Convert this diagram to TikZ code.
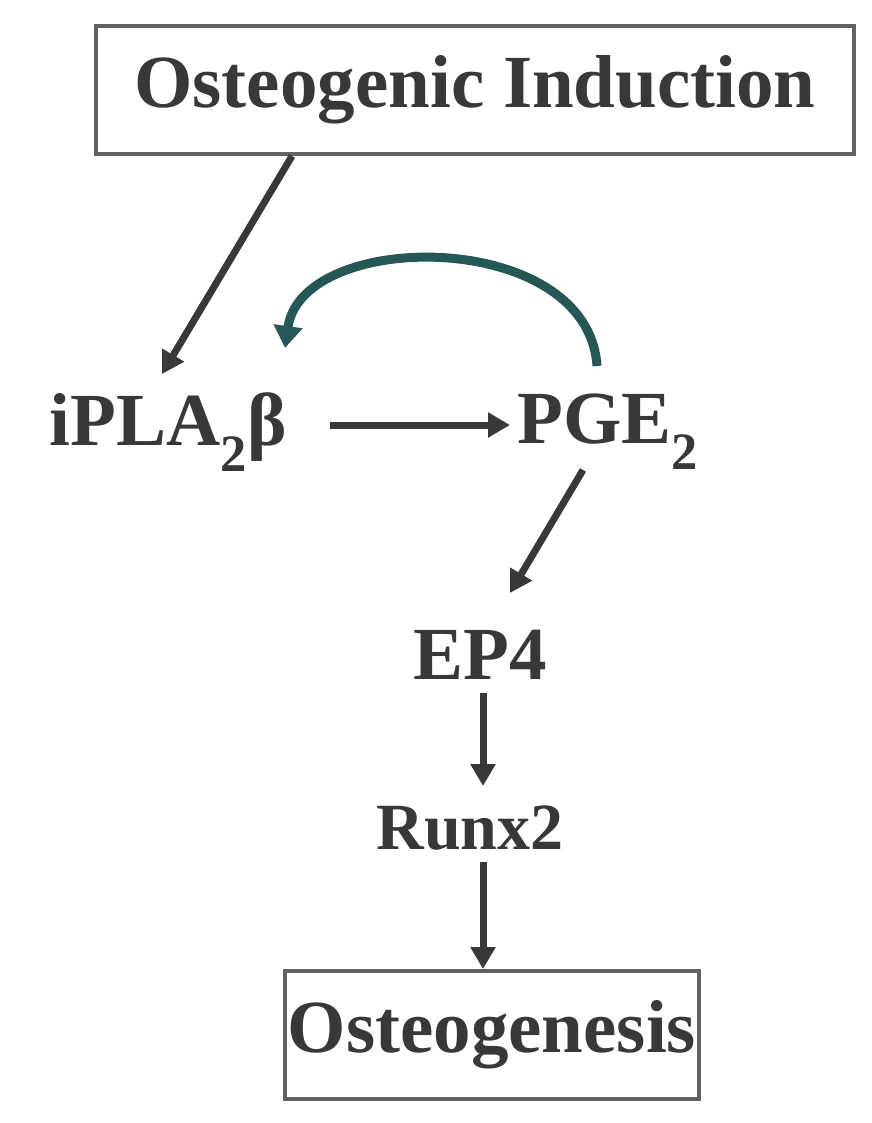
\documentclass[tikz,border=0pt]{standalone}
\usepackage{fontspec}
\setmainfont{Liberation Serif}
\usetikzlibrary{arrows.meta,calc}
\begin{document}
\begin{tikzpicture}[x=1pt,y=-1pt,
  lbl/.style={font=\fontsize{75}{88}\selectfont\bfseries, inner sep=0pt, text=black!78},
  boxed/.style={lbl, draw=black!62, line width=4pt, minimum height=128pt},
  link/.style={line width=7pt, draw=black!78, -{Triangle[length=22pt,width=24pt]}},
  loopback/.style={line width=9pt, draw=teal!45!black!85, -{Triangle[length=22pt,width=28pt]}}]
  \path[use as bounding box, fill=white] (0,0) rectangle (871,1123);

  % signalling components
  \node[boxed, minimum width=758pt] (ind) at (475,90) {Osteogenic Induction};
  \node[lbl] (ipla) at (168,432) {iPLA\textsubscript{2}β};
  \node[lbl] (pge) at (608,432) {PGE\textsubscript{2}};
  \node[lbl] (ep) at (480,655) {EP4};
  \node[lbl, font=\fontsize{66}{80}\selectfont\bfseries] (runx) at (470,828) {Runx2};
  \node[boxed, minimum width=414pt] (ost) at (492,1035) {Osteogenesis};

  % pathway
  \draw[link] ($(ind)+(-183,66)$) -- ($(ipla)+(-6,-58)$);
  \draw[link] ($(ipla)+(162,-7)$) -- ($(pge)+(-98,-7)$);
  \draw[link] ($(pge)+(-25,38)$) -- ($(ep)+(30,-62)$);
  \draw[link] ($(ep)+(3,38)$) -- ($(runx)+(13,-42)$);
  \draw[link] ($(runx)+(13,34)$) -- ($(ost)+(-9,-66)$);

  % PGE2 feeds back on iPLA2beta
  \draw[loopback] ($(pge)+(-11,-66)$)
    .. controls (588,228) and (302,228) .. ($(ipla)+(117,-84)$);
\end{tikzpicture}
\end{document}
